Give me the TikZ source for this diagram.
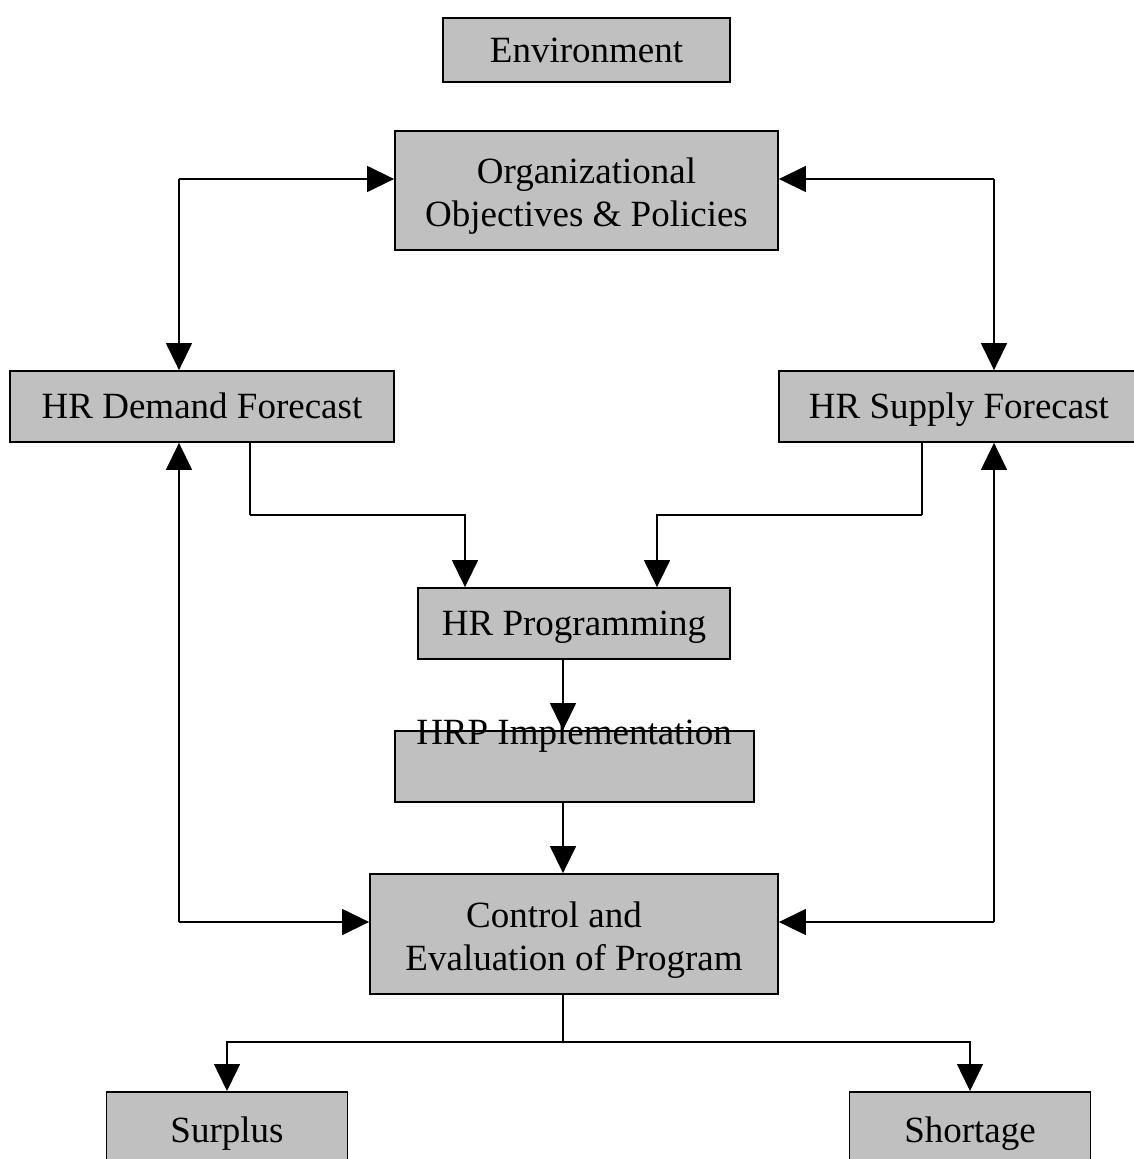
\documentclass[tikz,border=0pt]{standalone}
\usepackage{fontspec}
\setmainfont{Liberation Serif}
\usetikzlibrary{arrows.meta}
\begin{document}
\begin{tikzpicture}[x=1pt,y=-1pt,
  box/.style={draw=black, line width=1.8pt, fill=boxgray, inner sep=0pt, font=\fontsize{37}{43}\selectfont, align=center},
  oneline/.style={text height=32pt, text depth=8pt},
  link/.style={draw=black, line width=1.4pt, -{Triangle[length=27pt,width=26pt]}},
  plain/.style={draw=black, line width=1.4pt}]
\definecolor{boxgray}{HTML}{C0C0C0}
\useasboundingbox (0,0) rectangle (1133,1159);

% boxes
\node[box, oneline, minimum width=287pt, minimum height=64pt] (env) at (586.5,50) {Environment};
\node[box, minimum width=383pt, minimum height=119pt] (org) at (586.5,190.5) {\rule{0pt}{36pt}Organizational\\Objectives \& Policies};
\node[box, oneline, minimum width=384pt, minimum height=71pt] (demand) at (202,406.5) {HR Demand Forecast};
\node[box, oneline, minimum width=370pt, minimum height=71pt, anchor=west] (supply) at (778,406.5) {\hspace*{-10pt}HR Supply Forecast};
\node[box, oneline, minimum width=312pt, minimum height=71pt] (prog) at (574,623.5) {HR Programming};
\node[box, minimum width=359pt, minimum height=71pt] (impl) at (574.5,766.5) {};
\node[font=\fontsize{37}{43}\selectfont, anchor=base, inner sep=0pt] (impltext) at (574,744) {HRP Implementation};
\node[box, minimum width=408pt, minimum height=120pt] (ctrl) at (574,934) {\rule{0pt}{37pt}Control and\hspace*{40pt}\\Evaluation of Program};
\node[box, minimum width=241pt, minimum height=100pt, anchor=north] (surplus) at (227,1091) {\raisebox{25pt}{Surplus}};
\node[box, minimum width=241pt, minimum height=100pt, anchor=north] (shortage) at (970,1091) {\raisebox{25pt}{Shortage}};

% corner points of the routed connectors
\coordinate (lt) at (179,179);
\coordinate (rt) at (994,179);
\coordinate (lb) at (179,922);
\coordinate (rb) at (994,922);
\coordinate (dm) at (250,515);
\coordinate (sm) at (922,515);
\coordinate (split) at (563,1042);

% objectives <-> forecasts
\draw[link] (lt) -- (org.west |- lt);
\draw[link] (lt) -- (lt |- demand.north);
\draw[link] (rt) -- (org.east |- rt);
\draw[link] (rt) -- (rt |- supply.north);

% forecasts -> programming
\draw[plain] (dm |- demand.south) -- (dm);
\draw[link] (dm) -- (465,515) -- (465,0 |- prog.north);
\draw[plain] (sm |- supply.south) -- (sm);
\draw[link] (sm) -- (657,515) -- (657,0 |- prog.north);

% programming -> implementation -> control
\draw[link] (563,0 |- prog.south) -- (563,0 |- impl.north);
\draw[link] (563,0 |- impl.south) -- (563,0 |- ctrl.north);

% control feedback to forecasts
\draw[link] (lb) -- (lb -| ctrl.west);
\draw[link] (lb) -- (lb |- demand.south);
\draw[link] (rb) -- (rb -| ctrl.east);
\draw[link] (rb) -- (rb |- supply.south);

% outcomes
\draw[plain] (563,0 |- ctrl.south) -- (split);
\draw[link] (split) -- (227,1042) -- (surplus.north);
\draw[link] (split) -- (970,1042) -- (shortage.north);
\end{tikzpicture}
\end{document}
